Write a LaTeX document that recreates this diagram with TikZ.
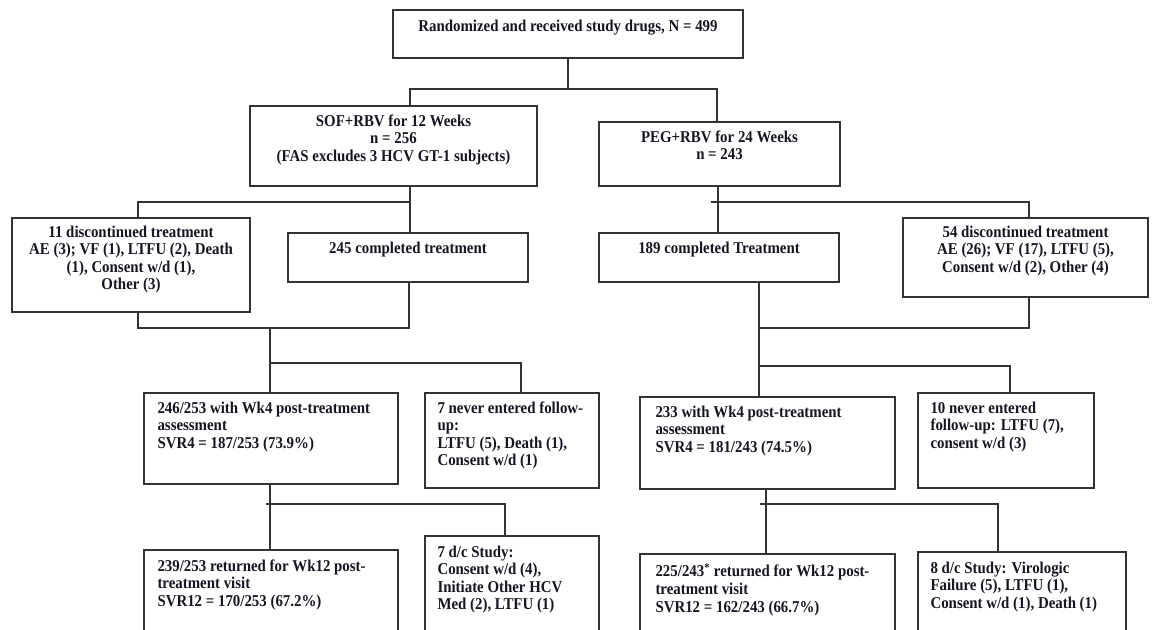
\documentclass[tikz,border=0pt]{standalone}
\usepackage{fontspec}
\setmainfont{Liberation Serif}[FakeStretch=0.9]
\usetikzlibrary{fit,calc}
\definecolor{linec}{HTML}{333333}
\definecolor{textc}{HTML}{161622}
\begin{document}
\begin{tikzpicture}[x=0.75pt,y=-0.75pt,
 box/.style={draw=linec, line width=1.1pt, inner sep=0pt},
 txt/.style={inner sep=0pt, font=\fontsize{12.4}{13.2}\selectfont\bfseries, text=textc},
 txtc/.style={txt, align=center, anchor=north},
 txtl/.style={txt, align=left, anchor=north west},
 conn/.style={draw=linec, line width=1.1pt}]
\useasboundingbox (0,0) rectangle (1152,629);
\clip (0,0) rectangle (1152,629);
\fill[white] (0,0) rectangle (1152,629);

% boxes
\node[box, fit={(393,10) (743,58)}] (top) {};
\node[box, fit={(250,106) (537,186)}] (sof) {};
\node[box, fit={(599,122) (840,186)}] (peg) {};
\node[box, fit={(12,218) (250,312)}] (disc11) {};
\node[box, fit={(288,233) (528,282)}] (comp245) {};
\node[box, fit={(599,233) (839,282)}] (comp189) {};
\node[box, fit={(903,218) (1148,297)}] (disc54) {};
\node[box, fit={(144,393) (398,484)}] (wk4a) {};
\node[box, fit={(425,393) (599,488)}] (never7) {};
\node[box, fit={(640,397) (895,489)}] (wk4b) {};
\node[box, fit={(918,393) (1094,488)}] (never10) {};
\node[box, fit={(144,550) (398,660)}] (wk12a) {};
\node[box, fit={(425,536) (599,660)}] (dc7) {};
\node[box, fit={(640,554) (895,660)}] (wk12b) {};
\node[box, fit={(918,552) (1126,660)}] (dc8) {};

% texts
\node[txtc] (topT) at ($(top.north)+(0,10)$) {Randomized and received study drugs, N = 499};
\node[txtc] (sofT) at ($(sof.north)+(0,9)$) {SOF+RBV for 12 Weeks\\ n = 256\\ (FAS excludes 3 HCV GT-1 subjects)};
\node[txtc] (pegT) at ($(peg.north)+(0,9)$) {PEG+RBV for 24 Weeks\\ n = 243};
\node[txtc] (disc11T) at ($(disc11.north)+(0,8)$) {11 discontinued treatment\\ AE (3); VF (1), LTFU (2), Death\\ (1), Consent w/d (1),\\ Other (3)};
\node[txtc] (comp245T) at ($(comp245.north)+(0,9)$) {245 completed treatment};
\node[txtc] (comp189T) at ($(comp189.north)+(0,9)$) {189 completed Treatment};
\node[txtc] (disc54T) at ($(disc54.north)+(0,8)$) {54 discontinued treatment\\ AE (26); VF (17), LTFU (5),\\ Consent w/d (2), Other (4)};
\node[txtl] (wk4aT) at ($(wk4a.north west)+(14,9)$) {246/253 with Wk4 post-treatment\\ assessment\\ SVR4 = 187/253 (73.9\%)};
\node[txtl] (never7T) at ($(never7.north west)+(13,9)$) {7 never entered follow-\\ up:\\ LTFU (5), Death (1),\\ Consent w/d (1)};
\node[txtl] (wk4bT) at ($(wk4b.north west)+(16,9)$) {233 with Wk4 post-treatment\\ assessment\\ SVR4 = 181/243 (74.5\%)};
\node[txtl] (never10T) at ($(never10.north west)+(13,9)$) {10 never entered\\ follow-up: LTFU (7),\\ consent w/d (3)};
\node[txtl] (wk12aT) at ($(wk12a.north west)+(14,10)$) {239/253 returned for Wk12 post-\\ treatment visit\\ SVR12 = 170/253 (67.2\%)};
\node[txtl] (dc7T) at ($(dc7.north west)+(13,10)$) {7 d/c Study:\\ Consent w/d (4),\\ Initiate Other HCV\\ Med (2), LTFU (1)};
\node[txtl] (wk12bT) at ($(wk12b.north west)+(16,10)$) {225/243\textsuperscript{*} returned for Wk12 post-\\ treatment visit\\ SVR12 = 162/243 (66.7\%)};
\node[txtl] (dc8T) at ($(dc8.north west)+(13,10)$) {8 d/c Study: Virologic\\ Failure (5), LTFU (1),\\ Consent w/d (1), Death (1)};

% connectors
\coordinate (j0) at (568,89);
\coordinate (jL) at (410,89);
\coordinate (jR) at (717,89);
\draw[conn] (top.south -| j0) -- (j0);
\draw[conn] (jL |- sof.north) -- (jL) -- (jR) -- (jR |- peg.north);

\coordinate (sL) at (138,202);
\coordinate (sC) at (410,202);
\draw[conn] (sC |- sof.south) -- (sC |- comp245.north);
\draw[conn] (sC) -- (sL) -- (sL |- disc11.north);

\coordinate (pS) at (711,202);
\coordinate (pC) at (718,202);
\coordinate (pR) at (1029,202);
\draw[conn] (pC |- peg.south) -- (pC |- comp189.north);
\draw[conn] (pS) -- (pR) -- (pR |- disc54.north);

\coordinate (mL) at (138,328);
\coordinate (mC) at (270,328);
\coordinate (mR) at (409,328);
\draw[conn] (mL |- disc11.south) -- (mL) -- (mR) -- (mR |- comp245.south);
\draw[conn] (mC) -- (mC |- wk4a.north);
\coordinate (nL) at (270,363);
\coordinate (nR) at (521,363);
\draw[conn] (nL) -- (nR) -- (nR |- never7.north);

\coordinate (qL) at (759,328);
\coordinate (qR) at (1029,328);
\draw[conn] (qL |- comp189.south) -- (qL |- wk4b.north);
\draw[conn] (qR |- disc54.south) -- (qR) -- (qL);
\coordinate (rL) at (759,366);
\coordinate (rR) at (1010,366);
\draw[conn] (rL) -- (rR) -- (rR |- never10.north);

\coordinate (uS) at (266,504);
\coordinate (uC) at (270,504);
\coordinate (uR) at (505,504);
\draw[conn] (uC |- wk4a.south) -- (uC |- wk12a.north);
\draw[conn] (uS) -- (uR) -- (uR |- dc7.north);

\coordinate (vS) at (760,504);
\coordinate (vC) at (766,504);
\coordinate (vR) at (998,504);
\draw[conn] (vC |- wk4b.south) -- (vC |- wk12b.north);
\draw[conn] (vS) -- (vR) -- (vR |- dc8.north);
\end{tikzpicture}
\end{document}
